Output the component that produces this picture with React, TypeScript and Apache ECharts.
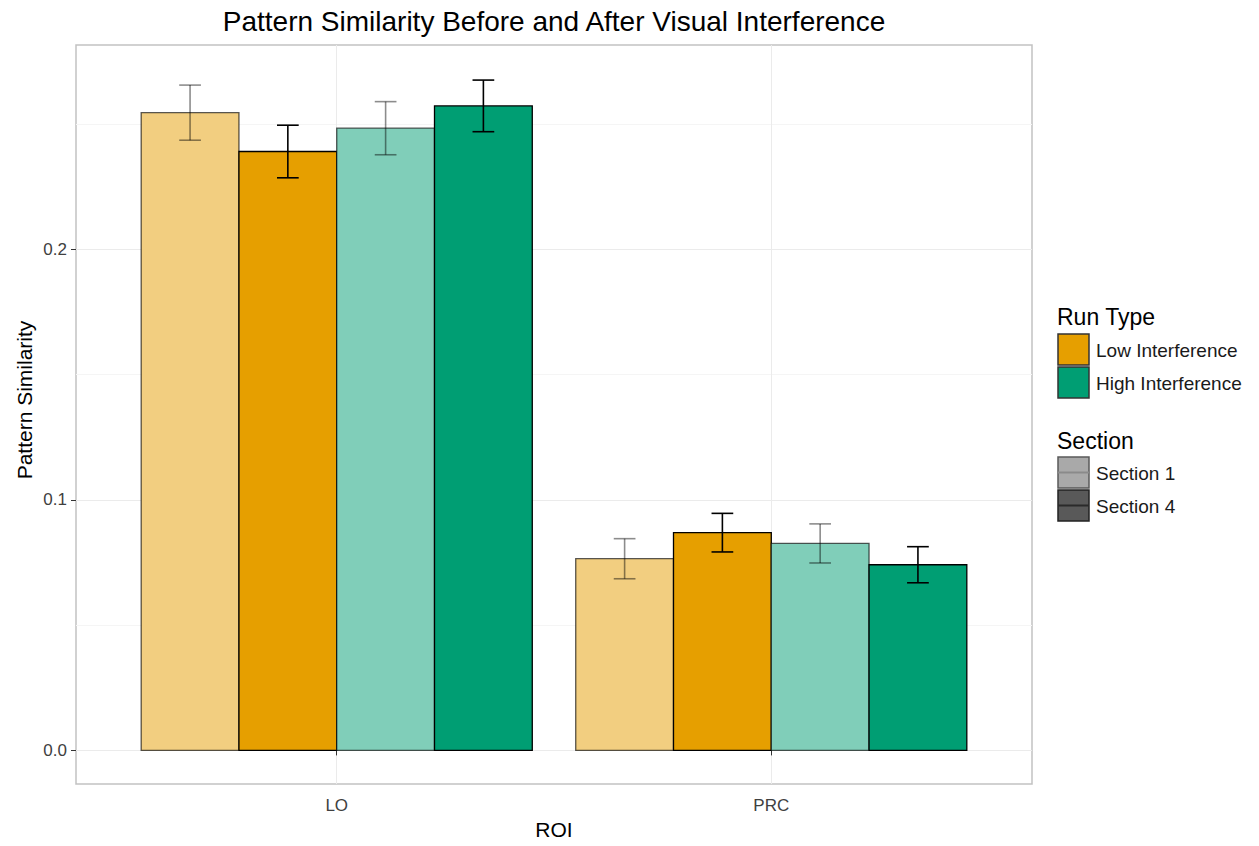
import React, { useEffect, useRef } from "react";
import * as echarts from "echarts";

// ---- data ----
const categories = ["LO", "PRC"];
const runTypes = ["Low Interference", "High Interference"];
const sections = ["Section 1", "Section 4"];
// mean pattern similarity per ROI
const lowSec1 = [0.2545, 0.0765];
const lowSec4 = [0.239, 0.0869];
const highSec1 = [0.2483, 0.0826];
const highSec4 = [0.2572, 0.0741];
// standard errors
const lowSec1Se = [0.011, 0.008];
const lowSec4Se = [0.0105, 0.0077];
const highSec1Se = [0.0106, 0.0078];
const highSec4Se = [0.0103, 0.0072];
const yTicks = [0, 0.1, 0.2];
const yMinorTicks = [0.05, 0.15, 0.25];

const FONT = "'Liberation Sans', Arial, Helvetica, sans-serif";
const BAR_UNIT = 0.225;
const CAP_UNIT = 0.05;

type Group = { vals: number[]; se: number[]; fill: string; stroke: string; err: string };
const groups: Group[] = [
  { vals: lowSec1, se: lowSec1Se, fill: "#F2CE80", stroke: "rgba(0,0,0,0.65)", err: "rgba(0,0,0,0.45)" },
  { vals: lowSec4, se: lowSec4Se, fill: "#E69F00", stroke: "#000", err: "#000" },
  { vals: highSec1, se: highSec1Se, fill: "#80CEB9", stroke: "rgba(0,0,0,0.65)", err: "rgba(0,0,0,0.45)" },
  { vals: highSec4, se: highSec4Se, fill: "#009E73", stroke: "#000", err: "#000" },
];

function makeSeries(g: Group, k: number) {
  const data = categories.map((_, i) => [i + 1, g.vals[i], g.se[i]]);
  return {
    type: "custom",
    name: `${runTypes[k < 2 ? 0 : 1]} ${sections[k % 2]}`,
    data,
    z: 2 + k,
    renderItem: (_params: any, api: any) => {
      const x = api.value(0) + (k - 1.5) * BAR_UNIT;
      const v = api.value(1);
      const se = api.value(2);
      const top = api.coord([x, v]);
      const base = api.coord([x, 0]);
      const w = api.size([BAR_UNIT, 0])[0];
      const hi = api.coord([x, v + se]);
      const lo = api.coord([x, v - se]);
      const cw = api.size([CAP_UNIT, 0])[0];
      return {
        type: "group",
        children: [
          {
            type: "rect",
            shape: { x: top[0] - w / 2, y: top[1], width: w, height: base[1] - top[1] },
            style: { fill: g.fill, stroke: g.stroke, lineWidth: 1.3 },
          },
          {
            type: "line",
            shape: { x1: hi[0], y1: hi[1], x2: lo[0], y2: lo[1] },
            style: { stroke: g.err, lineWidth: 1.6 },
          },
          {
            type: "line",
            shape: { x1: hi[0] - cw / 2, y1: hi[1], x2: hi[0] + cw / 2, y2: hi[1] },
            style: { stroke: g.err, lineWidth: 1.6 },
          },
          {
            type: "line",
            shape: { x1: lo[0] - cw / 2, y1: lo[1], x2: lo[0] + cw / 2, y2: lo[1] },
            style: { stroke: g.err, lineWidth: 1.6 },
          },
        ],
      };
    },
  };
}

export default function App() {
  const ref = useRef<HTMLDivElement>(null);
  useEffect(() => {
    if (!ref.current) return;
    const chart = echarts.init(ref.current, undefined, { renderer: "svg" });
    const legendSquares = [
      { y: 334, fill: "#E69F00", stroke: "#333", line: null as string | null, label: runTypes[0] },
      { y: 367, fill: "#009E73", stroke: "#333", line: null as string | null, label: runTypes[1] },
      { y: 457, fill: "#A9A9A9", stroke: "#5a5a5a", line: "#8a8a8a", label: sections[0] },
      { y: 490, fill: "#595959", stroke: "#222", line: "#2a2a2a", label: sections[1] },
    ];
    const graphic: any[] = [
      {
        type: "text",
        x: 554,
        y: 21,
        style: { text: "Pattern Similarity Before and After Visual Interference", align: "center", verticalAlign: "middle", fontSize: 28, fill: "#000", fontFamily: FONT },
      },
      {
        type: "text",
        x: 24,
        y: 400,
        rotation: Math.PI / 2,
        style: { text: "Pattern Similarity", align: "center", verticalAlign: "middle", fontSize: 21, fill: "#000", fontFamily: FONT },
      },
      { type: "text", x: 1057, y: 317, style: { text: "Run Type", verticalAlign: "middle", fontSize: 23, fill: "#000", fontFamily: FONT } },
      { type: "text", x: 1057, y: 441, style: { text: "Section", verticalAlign: "middle", fontSize: 23, fill: "#000", fontFamily: FONT } },
    ];
    legendSquares.forEach((s) => {
      graphic.push({ type: "rect", shape: { x: 1058, y: s.y, width: 31, height: 31 }, style: { fill: s.fill, stroke: s.stroke, lineWidth: 1.5 } });
      if (s.line) {
        graphic.push({ type: "line", shape: { x1: 1058, y1: s.y + 15.5, x2: 1089, y2: s.y + 15.5 }, style: { stroke: s.line, lineWidth: 2 } });
      }
      graphic.push({ type: "text", x: 1096, y: s.y + 16, style: { text: s.label, verticalAlign: "middle", fontSize: 19, fill: "#1a1a1a", fontFamily: FONT } });
    });

    chart.setOption({
      animation: false,
      textStyle: { fontFamily: FONT },
      grid: { left: 76, right: 227, top: 45, bottom: 62, show: true, borderColor: "#C2C2C2", borderWidth: 1.5, backgroundColor: "#fff" },
      xAxis: {
        type: "value",
        min: 0.4,
        max: 2.6,
        axisLine: { show: false },
        axisTick: { show: true, customValues: [1, 2], length: 5, lineStyle: { color: "#333" } },
        axisLabel: { customValues: [1, 2], formatter: (v: number) => categories[Math.round(v) - 1] ?? "", fontSize: 17, color: "#404040", margin: 13 },
        splitLine: { show: true, lineStyle: { color: "#EBEBEB", width: 1 } },
        name: "ROI",
        nameLocation: "middle",
        nameGap: 35,
        nameTextStyle: { fontSize: 21, color: "#000" },
      },
      yAxis: [
        {
          type: "value",
          min: -0.0134,
          max: 0.2815,
          axisLine: { show: false },
          axisTick: { show: true, customValues: yTicks, length: 5, lineStyle: { color: "#333" } },
          axisLabel: { customValues: yTicks, formatter: (v: number) => v.toFixed(1), fontSize: 17, color: "#404040", margin: 9 },
          splitLine: { show: true, lineStyle: { color: "#EBEBEB", width: 1 } },
        },
        {
          type: "value",
          min: -0.0134,
          max: 0.2815,
          position: "left",
          axisLine: { show: false },
          axisTick: { show: false, customValues: yMinorTicks },
          axisLabel: { show: false, customValues: yMinorTicks },
          splitLine: { show: true, lineStyle: { color: "#F5F5F5", width: 1 } },
        },
      ],
      series: groups.map((g, k) => makeSeries(g, k)),
      graphic,
    });
    return () => chart.dispose();
  }, []);
  return <div ref={ref} style={{ position: "fixed", left: 0, top: 0, width: 1259, height: 846, background: "#fff" }} />;
}
